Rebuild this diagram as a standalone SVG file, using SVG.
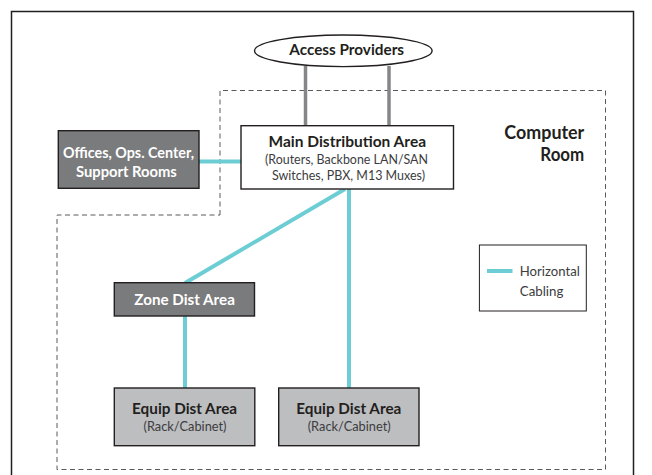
<svg xmlns="http://www.w3.org/2000/svg" width="652" height="475" viewBox="0 0 652 475">
<defs>
<style>
.t{font-family:Lato,"Open Sans","Liberation Sans",sans-serif;fill:#231f20}
.b{font-weight:bold}
.r{fill:#3c3c3e}
.w{fill:#ffffff}
.box{stroke:#231f20;stroke-width:1.4}
.dark{fill:#7a7b7d}
.light{fill:#bdbec0}
.cab{stroke:#6ccdd4;stroke-width:4;fill:none}
.gry{stroke:#858688;stroke-width:3.5;fill:none}
.dash{stroke:#5a5a5a;stroke-width:1;fill:none;stroke-dasharray:5 3.5}
</style>
</defs>
<rect x="0" y="0" width="652" height="475" fill="#ffffff"/>
<path d="M11.5 480 V11.5 H633.5 V480" fill="none" stroke="#231f20" stroke-width="1.5"/>
<path class="dash" d="M220 215 V90.5 H605.5 V469.5 H57 V215 Z"/>
<g id="computer-room-label">
<text class="t b" x="584.3" y="139.4" font-size="18" text-anchor="end" textLength="80" lengthAdjust="spacingAndGlyphs">Computer</text>
<text class="t b" x="584.3" y="160.7" font-size="18" text-anchor="end" textLength="44" lengthAdjust="spacingAndGlyphs">Room</text>
</g>
<g id="connectors">
<line class="gry" x1="305.5" y1="66" x2="305.5" y2="126"/>
<line class="gry" x1="389" y1="66" x2="389" y2="126"/>
<line class="cab" x1="199" y1="161.5" x2="241" y2="161.5"/>
<line class="cab" x1="345" y1="189" x2="185" y2="283"/>
<line class="cab" x1="349" y1="189" x2="349" y2="388.5"/>
<line class="cab" x1="185" y1="316" x2="185" y2="388.5"/>
</g>
<g id="access-providers">
<ellipse cx="343.3" cy="50.8" rx="88.8" ry="15.8" fill="#ffffff" stroke="#231f20" stroke-width="1.4"/>
<text class="t b" x="346.7" y="54.8" font-size="14.5" text-anchor="middle" textLength="114.7" lengthAdjust="spacingAndGlyphs">Access Providers</text>
</g>
<g id="main-distribution-area">
<rect class="box" x="241" y="125.7" width="212.5" height="63.3" fill="#ffffff"/>
<text class="t b" x="347.3" y="146.8" font-size="14.5" text-anchor="middle" textLength="157.6" lengthAdjust="spacingAndGlyphs">Main Distribution Area</text>
<text class="t r" x="346.5" y="163.8" font-size="12.5" text-anchor="middle" textLength="163" lengthAdjust="spacingAndGlyphs">(Routers, Backbone LAN/SAN</text>
<text class="t r" x="348.5" y="180.2" font-size="12.5" text-anchor="middle" textLength="153" lengthAdjust="spacingAndGlyphs">Switches, PBX, M13 Muxes)</text>
</g>
<g id="offices">
<rect class="box dark" x="58.3" y="130.7" width="140.7" height="57.6"/>
<text class="t b w" x="128.5" y="158.4" font-size="14.5" text-anchor="middle" textLength="131" lengthAdjust="spacingAndGlyphs">Offices, Ops. Center,</text>
<text class="t b w" x="126.4" y="176.8" font-size="14.5" text-anchor="middle" textLength="100.7" lengthAdjust="spacingAndGlyphs">Support Rooms</text>
</g>
<g id="zone-dist-area">
<rect class="box dark" x="114.3" y="282.7" width="140.2" height="33.3"/>
<text class="t b w" x="184.6" y="305" font-size="14.5" text-anchor="middle" textLength="100.6" lengthAdjust="spacingAndGlyphs">Zone Dist Area</text>
</g>
<g id="equip-dist-area-1">
<rect class="box light" x="114.3" y="388" width="140.5" height="57.7"/>
<text class="t b" x="184.6" y="414.3" font-size="15.3" text-anchor="middle" textLength="105" lengthAdjust="spacingAndGlyphs">Equip Dist Area</text>
<text class="t r" x="185" y="430.5" font-size="12.5" text-anchor="middle" textLength="83" lengthAdjust="spacingAndGlyphs">(Rack/Cabinet)</text>
</g>
<g id="equip-dist-area-2">
<rect class="box light" x="278.7" y="388" width="140.3" height="57.7"/>
<text class="t b" x="348.8" y="414.3" font-size="15.3" text-anchor="middle" textLength="105" lengthAdjust="spacingAndGlyphs">Equip Dist Area</text>
<text class="t r" x="349.2" y="430.5" font-size="12.5" text-anchor="middle" textLength="83" lengthAdjust="spacingAndGlyphs">(Rack/Cabinet)</text>
</g>
<g id="legend">
<rect x="479.4" y="245" width="106.9" height="66" fill="#ffffff" stroke="#231f20" stroke-width="1"/>
<line class="cab" x1="487" y1="271" x2="512.5" y2="271" stroke-width="3"/>
<text class="t r" x="519.8" y="275.5" font-size="12.5" textLength="60" lengthAdjust="spacingAndGlyphs">Horizontal</text>
<text class="t r" x="519.8" y="296" font-size="12.5" textLength="43.6" lengthAdjust="spacingAndGlyphs">Cabling</text>
</g>
</svg>
